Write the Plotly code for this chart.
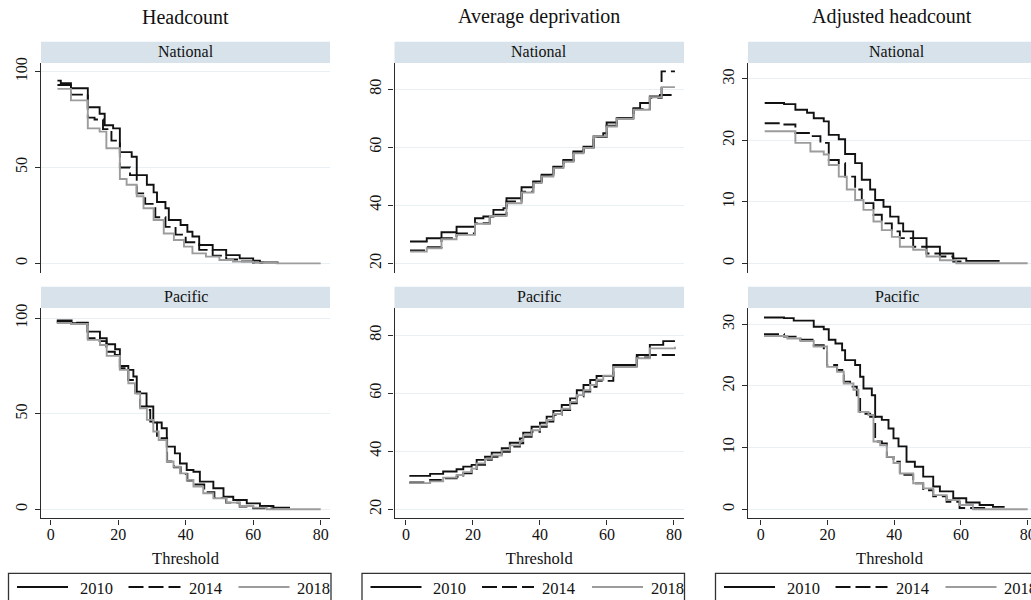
import plotly.graph_objects as go

# ---------------- data (step functions: threshold -> value) ----------------
YEARS = ["2010", "2014", "2018"]
MEASURES = ["Headcount", "Average deprivation", "Adjusted headcount"]
REGIONS = ["National", "Pacific"]
X_TICKS = [0, 20, 40, 60, 80]
Y_TICKS = [[0, 50, 100], [20, 40, 60, 80], [0, 10, 20, 30]]

# Headcount - National
HN_2010_X = [2, 3, 6, 11, 14.5, 16, 18.5, 20.5, 24, 25.5, 28.5, 30.5, 31.5, 34, 35, 38.5, 40.5, 42, 44, 48, 52, 56, 60, 62, 67.5]
HN_2010_Y = [95.3, 94, 91.3, 81.4, 78, 72, 70.4, 58, 55.6, 46, 41, 37, 32, 28.7, 22.6, 20, 16.5, 14, 9.6, 7, 4.3, 2.6, 1.4, 0.5, 0.5]
HN_2014_X = [2, 6, 11, 13, 15.5, 18, 20.5, 23.5, 25.5, 28, 31, 34, 37, 40, 44, 48, 52, 56, 60, 63]
HN_2014_Y = [93, 88, 76, 75, 70, 64, 50, 46, 36.5, 31, 24, 19, 15, 11, 7, 4, 2, 1, 0.3, 0.2]
HN_2018_X = [2, 6, 11, 14.5, 16.5, 20.5, 22.5, 25.5, 27.5, 30.5, 33.5, 36.5, 39.5, 42, 46, 50, 54, 60, 67, 80]
HN_2018_Y = [91, 85, 70.4, 68.7, 60, 44, 41, 35, 28.7, 22.6, 15.6, 12.2, 8.7, 5.2, 3.5, 1.7, 0.9, 0.3, 0, 0]

# Headcount - Pacific
HP_2010_X = [1.8, 6.2, 10.9, 14.6, 16.6, 19.1, 20.5, 23, 24.5, 25.5, 28.4, 30.4, 32.9, 34.4, 36.8, 38.3, 40.3, 42.3, 44.2, 48.2, 51.2, 54.1, 58.1, 62, 66, 70.9]
HP_2010_Y = [98.8, 97.4, 93, 89.5, 86.4, 83.8, 75, 73, 69.5, 60.7, 53.8, 45.4, 42.4, 32.8, 29.3, 24, 20.6, 19.7, 14.5, 11, 6.6, 4.9, 3.1, 1.7, 0.9, 0.9]
HP_2014_X = [1.8, 6, 11, 14.5, 16.5, 19, 20.5, 23, 25, 26.5, 28.5, 29.5, 31.5, 34.5, 36.5, 38.5, 40.5, 42.5, 45.5, 48.5, 52, 56, 60, 66]
HP_2014_Y = [98, 97.7, 89.5, 88, 82.5, 80.8, 73.8, 67.7, 61.6, 53.8, 52, 45.9, 37.2, 25, 22, 18.5, 15, 13, 9, 6, 3.5, 1.5, 0.5, 0]
HP_2018_X = [1.8, 6, 11, 14.6, 16.6, 20.5, 23, 25, 26.5, 28.5, 30.4, 32, 34.4, 36.4, 38.3, 40.3, 42.3, 45.2, 48.2, 52.1, 56.1, 60, 64, 80]
HP_2018_Y = [97.5, 97, 88.7, 86, 80.3, 73, 66, 60.7, 52.9, 46.8, 40.7, 36.3, 25, 22.3, 18.8, 15.4, 11.9, 8.4, 5.8, 3.5, 1.7, 0.9, 0, 0]

# Average deprivation - National
AN_2010_X = [1.2, 6.2, 10.6, 15.1, 20.6, 23.1, 26.1, 29.1, 30, 34.5, 38, 40.5, 44, 47, 50, 53, 56, 58.9, 59.9, 62.9, 67.9, 69.9, 72.8, 75.8, 79.3]
AN_2010_Y = [27.5, 28.6, 30.7, 32.6, 35.5, 36.1, 38.4, 39, 42.4, 46.2, 48.2, 50.5, 53.3, 55.6, 58.5, 60.2, 63.7, 64.8, 68.5, 70, 73.4, 75.2, 77.5, 78, 78]
AN_2014_X = [1.2, 6.2, 10.6, 15.1, 20.6, 25, 30, 34.5, 38, 40.5, 44, 47, 50, 53, 56, 59.9, 62.9, 67.9, 72.8, 76.3, 80.3]
AN_2014_Y = [24.4, 25.5, 28.6, 30.3, 33.8, 36.7, 41.3, 44.7, 47.9, 50.2, 53.0, 55.3, 58.2, 59.9, 63.5, 67.4, 69.9, 73.1, 77.0, 86.1, 86.1]
AN_2018_X = [1.2, 6.2, 10.6, 15.1, 20.6, 25, 30, 34.5, 38, 40.5, 44, 47, 50, 53, 56, 59.9, 62.9, 67.9, 72.8, 76.3, 80.3]
AN_2018_Y = [24, 25.2, 28.3, 29.8, 33.6, 36.3, 40.7, 44.4, 47.6, 49.9, 52.8, 55, 57.9, 59.7, 63.7, 67.1, 69.7, 72.9, 77.2, 80.7, 80.7]

# Average deprivation - Pacific
AP_2010_X = [1, 7.2, 11.1, 15.1, 17.1, 19.6, 21.1, 23.6, 25.6, 28.6, 31, 34, 35, 37.5, 40, 42, 44, 46.5, 49, 51, 53, 55, 56.9, 61.9, 68.9, 72.8, 76.8, 80.3]
AP_2010_Y = [31.5, 32.2, 33, 33.8, 34.7, 35.3, 37, 38.1, 39.5, 41, 42.9, 44.4, 46.4, 48.4, 49.8, 51.9, 53.9, 55.9, 58.2, 61, 62.8, 64.5, 65.9, 69.7, 73.1, 76.6, 77.9, 77.9]
AP_2014_X = [1, 7.2, 11.1, 15.1, 17.1, 19.6, 21.1, 23.6, 25.6, 28.6, 31, 34, 35, 37.5, 40, 42, 44, 46.5, 49, 51, 53, 55, 56.9, 61.9, 68.9, 72.8, 80.3]
AP_2014_Y = [29.2, 30.1, 30.7, 31.2, 32.4, 33.5, 35.3, 37, 38.1, 39.8, 41.6, 42.7, 45, 46.7, 48.4, 50.2, 52.5, 54.2, 56.5, 58.8, 60.5, 62.2, 64.2, 69.3, 72.3, 73.1, 73.1]
AP_2018_X = [1, 7.2, 11.1, 15.1, 17.1, 19.6, 21.1, 23.6, 25.6, 28.6, 31, 34, 35, 37.5, 40, 42, 44, 46.5, 49, 51, 53, 55, 56.9, 58.9, 61.9, 68.9, 72.8, 80.3]
AP_2018_Y = [29, 29.6, 30.9, 31.8, 32.8, 34, 35.8, 37.4, 38.5, 40.3, 42, 43.5, 45.5, 47.2, 48.9, 50.8, 52.8, 54.6, 57, 59.3, 61, 62.8, 64.6, 66, 69, 72, 75.4, 76]

# Adjusted headcount - National
JN_2010_X = [1.2, 7, 10.4, 13.9, 15.9, 18.9, 20.4, 23.4, 25.3, 28.3, 30.3, 32.8, 34.3, 36.8, 38.8, 41.3, 42.7, 45.7, 49.7, 53.7, 57.7, 61.6, 71.6]
JN_2010_Y = [26.1, 25.9, 25, 24.5, 23.6, 23.1, 20.9, 20.2, 17.8, 16.3, 13.6, 12, 10.3, 9.2, 7.6, 6.5, 5.2, 4.1, 2.7, 1.6, 0.8, 0.4, 0.4]
JN_2014_X = [1.2, 6.5, 10.4, 14.9, 17.9, 20.4, 23.4, 25.3, 28.3, 30.3, 33.8, 36.3, 39.3, 41.7, 45.7, 49.7, 53.7, 57.7, 60.6]
JN_2014_Y = [22.8, 22.6, 21.2, 20.7, 19.6, 16.8, 16.3, 14.1, 12, 9.8, 7.9, 6.5, 5.2, 4.1, 2.7, 1.6, 1.1, 0.3, 0.3]
JN_2018_X = [1.2, 10.4, 14.9, 18.9, 20.4, 23.4, 25.8, 28.3, 30.8, 33.8, 36.3, 39.3, 41.7, 45.7, 49.7, 53.7, 58.6, 80]
JN_2018_Y = [21.5, 19.6, 18.2, 17.7, 16, 14.1, 12, 10.3, 8.7, 6.8, 5.4, 4.3, 2.7, 2.2, 1.1, 0.5, 0, 0]

# Adjusted headcount - Pacific
JP_2010_X = [1, 7, 9.9, 15.9, 18.9, 20.4, 22.4, 24.4, 25.3, 28.3, 29.8, 30.8, 33.3, 34.3, 36.3, 38.3, 39.8, 41.3, 43.7, 46.2, 48.7, 51.7, 53.7, 57.7, 61.6, 65.6, 69.6, 73.1]
JP_2010_Y = [31.1, 31, 30.6, 29.6, 29.2, 27.5, 26.9, 25.8, 24.2, 23.4, 21.5, 19.6, 18.5, 15, 14.5, 13.1, 11.5, 10.2, 7.7, 6.9, 5.3, 3.7, 2.9, 1.8, 1.1, 0.7, 0.4, 0.4]
JP_2014_X = [1, 7, 11.9, 15.9, 18.9, 19.9, 22.9, 24.9, 26.8, 28.8, 29.8, 32.8, 34.3, 36.3, 37.8, 39.8, 41.7, 45.7, 48.7, 51.7, 55.7, 59.6, 67.6]
JP_2014_Y = [28.4, 28, 27.5, 26.6, 26.1, 23.4, 22.6, 20.7, 19.9, 18.5, 15.5, 15, 11, 10.7, 8.5, 7.7, 5.6, 4.2, 3.1, 2.1, 1.2, 0.2, 0.2]
JP_2018_X = [1, 8, 11.9, 15.9, 19.9, 22.9, 24.9, 27.8, 29.3, 32.3, 33.8, 35.8, 37.8, 39.8, 41.7, 45.7, 48.7, 51.7, 55.7, 59.6, 63.6, 80]
JP_2018_Y = [28.1, 27.7, 27.3, 26.4, 23.1, 22.3, 20.4, 19.4, 15.8, 15.3, 11, 10.4, 8.5, 7.5, 5.8, 4.2, 3.4, 2.3, 1.5, 0.7, 0, 0]

# panel -> (row, col, [(x, y) for each year])
PANELS = [
    (0, 0, [(HN_2010_X, HN_2010_Y), (HN_2014_X, HN_2014_Y), (HN_2018_X, HN_2018_Y)]),
    (0, 1, [(AN_2010_X, AN_2010_Y), (AN_2014_X, AN_2014_Y), (AN_2018_X, AN_2018_Y)]),
    (0, 2, [(JN_2010_X, JN_2010_Y), (JN_2014_X, JN_2014_Y), (JN_2018_X, JN_2018_Y)]),
    (1, 0, [(HP_2010_X, HP_2010_Y), (HP_2014_X, HP_2014_Y), (HP_2018_X, HP_2018_Y)]),
    (1, 1, [(AP_2010_X, AP_2010_Y), (AP_2014_X, AP_2014_Y), (AP_2018_X, AP_2018_Y)]),
    (1, 2, [(JP_2010_X, JP_2010_Y), (JP_2014_X, JP_2014_Y), (JP_2018_X, JP_2018_Y)]),
]

# ---------------- styling / geometry ----------------
W, H = 1031, 600
FONT = "Liberation Serif"
STRIP = "rgb(216,226,234)"
GRID = "rgb(233,240,243)"
AXIS = "#2b2b2b"
YEAR_COLOR = ["#111111", "#111111", "#9c9c9c"]
YEAR_DASH = ["solid", "15px,5px", "solid"]


def px(x):
    return x / W


def py(y):
    return 1 - y / H


COL_L = [41, 394.5, 748]
COL_R = [330, 684, 1031]
COL_R_STRIP = [330, 684, 1045]
X_RANGES = [[-2.87, 82.76], [-3.43, 83.0], [-3.8, 81.0]]
ROW_TOP = [63, 308.3]
ROW_BOT = [273.3, 518.3]
STRIP_TOP = [41.7, 286.7]
Y_RANGES = [
    [[-5.2, 104.5], [16.55, 89.0], [-1.63, 32.6]],
    [[-4.7, 105.2], [16.9, 89.2], [-1.46, 32.6]],
]

fig = go.Figure()
layout = dict(
    width=W, height=H, margin=dict(l=0, r=0, t=0, b=0, pad=0),
    paper_bgcolor="white", plot_bgcolor="white", showlegend=False,
    font=dict(family=FONT, size=16, color="#111"),
)
shapes, annotations = [], []

for idx, (r, c, series) in enumerate(PANELS):
    sfx = "" if idx == 0 else str(idx + 1)
    xa, ya = "x" + sfx, "y" + sfx
    for k, (xs, ys) in enumerate(series):
        fig.add_trace(go.Scatter(
            x=xs, y=ys, mode="lines", line_shape="hv", name=YEARS[k],
            line=dict(color=YEAR_COLOR[k], width=1.9, dash=YEAR_DASH[k]),
            xaxis=xa, yaxis=ya, hoverinfo="skip"))
    bottom = (r == 1)
    layout["xaxis" + sfx] = dict(
        domain=[px(COL_L[c]), px(COL_R[c])], range=X_RANGES[c], anchor=ya,
        tickvals=X_TICKS, showgrid=False, zeroline=False,
        showline=bottom, linecolor=AXIS, linewidth=1.4,
        ticks="outside" if bottom else "", ticklen=5, tickcolor=AXIS, tickwidth=1.4,
        showticklabels=bottom, tickfont=dict(size=16, family=FONT),
        ticklabeloverflow="allow", ticklabelstandoff=-4, automargin=False,
        title=dict(text="Threshold" if bottom else "", font=dict(size=16.5, family=FONT), standoff=10),
    )
    layout["yaxis" + sfx] = dict(
        domain=[py(ROW_BOT[r]), py(ROW_TOP[r])], range=Y_RANGES[r][c], anchor=xa,
        tickvals=Y_TICKS[c], showgrid=True, gridcolor=GRID, gridwidth=1, zeroline=False,
        showline=True, linecolor=AXIS, linewidth=1.4, automargin=False,
        ticks="outside", ticklen=5, tickcolor=AXIS, tickwidth=1.4,
        tickangle=-90, tickfont=dict(size=16, family=FONT), ticklabelstandoff=1,
    )
    # strip
    shapes.append(dict(type="rect", xref="paper", yref="paper",
                       x0=px(COL_L[c]), x1=px(COL_R_STRIP[c]),
                       y0=py(STRIP_TOP[r] + 21.3), y1=py(STRIP_TOP[r]),
                       fillcolor=STRIP, line=dict(width=0), layer="below"))
    annotations.append(dict(text=REGIONS[r], xref="paper", yref="paper",
                            x=px((COL_L[c] + COL_R_STRIP[c]) / 2), y=py(STRIP_TOP[r] + 10),
                            xanchor="center", yanchor="middle", showarrow=False,
                            font=dict(size=16, family=FONT, color="#111")))

# column titles
TITLE_CX = [185.5, 539, 892]
for c in range(3):
    annotations.append(dict(text=MEASURES[c], xref="paper", yref="paper",
                            x=px(TITLE_CX[c]), y=py(17), xanchor="center", yanchor="middle",
                            showarrow=False, font=dict(size=20, family=FONT, color="#111")))

# legends (one boxed legend under each column)
KEY_SEG = [(8.5, 59.5), (120, 172), (230, 281)]
TXT_OFF = [69, 178, 286.5]
for c in range(3):
    bl = COL_L[c] - 32.5
    shapes.append(dict(type="rect", xref="paper", yref="paper",
                       x0=px(bl), x1=px(bl + 322.5), y0=py(615), y1=py(573.3),
                       line=dict(color="#333", width=1.3), fillcolor="rgba(0,0,0,0)"))
    for k in range(3):
        shapes.append(dict(type="line", xref="paper", yref="paper",
                           x0=px(bl + KEY_SEG[k][0]), x1=px(bl + KEY_SEG[k][1]),
                           y0=py(587), y1=py(587),
                           line=dict(color=YEAR_COLOR[k], width=2, dash=YEAR_DASH[k])))
        annotations.append(dict(text=YEARS[k], xref="paper", yref="paper",
                                x=px(bl + TXT_OFF[k]), y=py(588), xanchor="left", yanchor="middle",
                                showarrow=False, font=dict(size=16.5, family=FONT, color="#111")))

layout["shapes"] = shapes
layout["annotations"] = annotations
fig.update_layout(**layout)
fig.write_html("out.html")
